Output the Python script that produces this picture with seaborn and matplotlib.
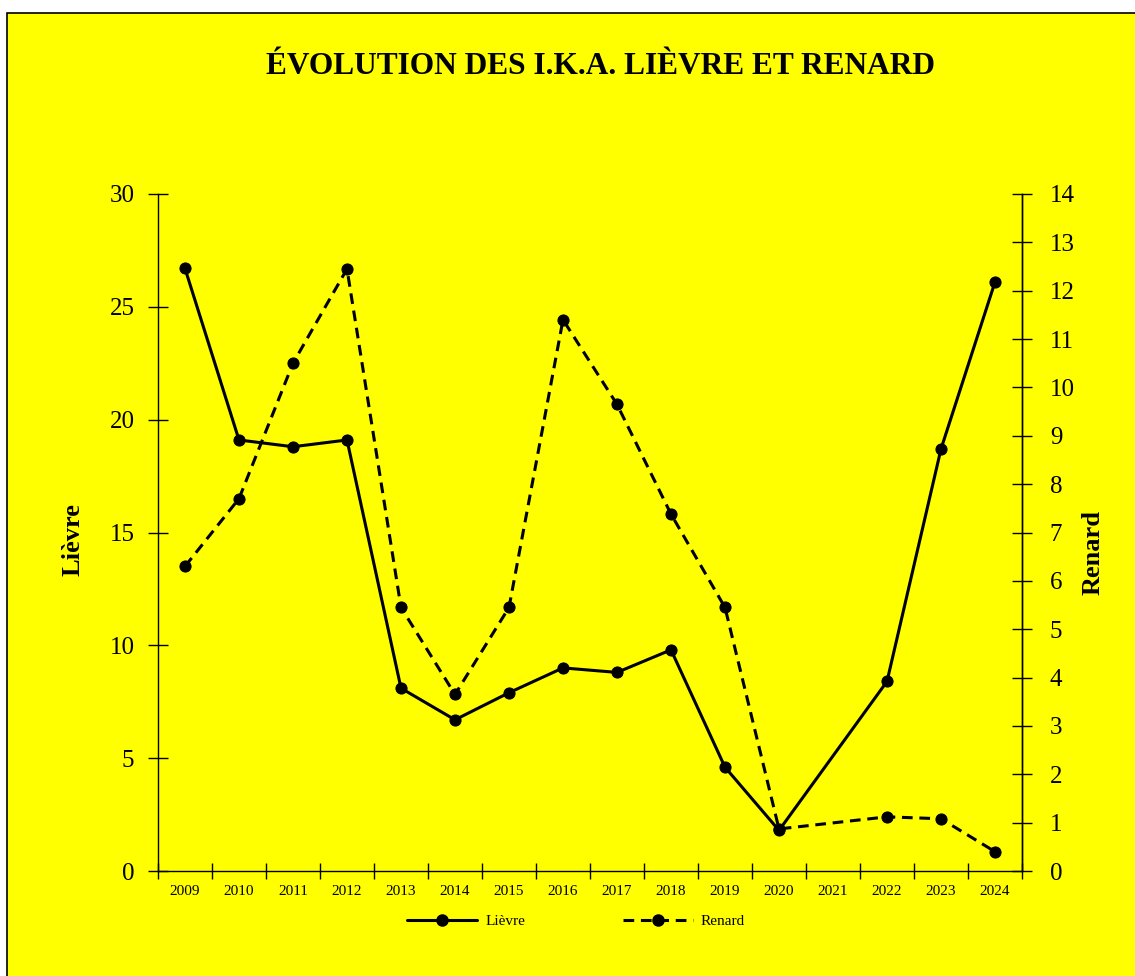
import numpy as np
import pandas as pd
import matplotlib.pyplot as plt
import seaborn as sns
from matplotlib.patches import Rectangle
from matplotlib.lines import Line2D

annees = ["2009", "2010", "2011", "2012", "2013", "2014", "2015", "2016",
          "2017", "2018", "2019", "2020", "2021", "2022", "2023", "2024"]
lievre = [26.7, 19.1, 18.8, 19.1, 8.1, 6.7, 7.9, 9.0, 8.8, 9.8, 4.6, 1.8,
          np.nan, 8.4, 18.7, 26.1]
renard = [6.3, 7.7, 10.5, 12.45, 5.45, 3.65, 5.45, 11.4, 9.65, 7.38, 5.45,
          0.87, np.nan, 1.12, 1.08, 0.4]

df = pd.DataFrame({"pos": np.arange(len(annees)), "annee": annees,
                   "Lièvre": lievre, "Renard": renard})

sns.set_theme(style="ticks")
plt.rcParams["font.family"] = ["Liberation Serif", "DejaVu Serif"]
plt.rcParams["text.color"] = "black"
plt.rcParams["axes.labelcolor"] = "black"
plt.rcParams["xtick.color"] = "black"
plt.rcParams["ytick.color"] = "black"

fig = plt.figure(figsize=(11.35, 9.76), dpi=100)
fig.patch.set_facecolor("white")
fig.patches.append(Rectangle((7 / 1135, -0.01), 1.1, (976 - 13) / 976 + 0.01,
                             transform=fig.transFigure, facecolor="#ffff00",
                             edgecolor="black", linewidth=1.2, zorder=-10))

ax = fig.add_axes([158 / 1135, 1 - 871 / 976, (1022 - 158) / 1135, (871 - 194) / 976])
ax.set_facecolor("none")
ax2 = ax.twinx()

d1 = df.dropna(subset=["Lièvre"])
d2 = df.dropna(subset=["Renard"])
sns.lineplot(data=d1, x="pos", y="Lièvre", ax=ax, color="black", lw=2.2,
             marker="o", markersize=8, markeredgecolor="black", legend=False)
sns.lineplot(data=d2, x="pos", y="Renard", ax=ax2, color="black", lw=2.2,
             marker="o", markersize=8, markeredgecolor="black", legend=False,
             linestyle=(0, (3.5, 2.2)))

ax.set_xlim(-0.5, len(annees) - 0.5)
ax.set_ylim(0, 30)
ax2.set_ylim(0, 14)
ax.set_yticks(range(0, 31, 5))
ax2.set_yticks(range(0, 15))
ax.set_xticks(np.arange(len(annees) + 1) - 0.5, minor=True)
ax.set_xticks(np.arange(len(annees)))
ax.set_xticklabels(annees, fontsize=11)
ax.tick_params(axis="x", which="major", length=0, pad=10)
ax.tick_params(axis="x", which="minor", direction="inout", length=11, width=1)
ax.tick_params(axis="y", direction="inout", length=15, width=1, labelsize=18, pad=9.5)
ax2.tick_params(axis="y", direction="inout", length=15, width=1, labelsize=18, pad=12.5)

for a in (ax, ax2):
    a.spines["top"].set_visible(False)
    for s in a.spines.values():
        s.set_color("black")
        s.set_linewidth(1)
ax2.spines["left"].set_visible(False)
ax2.spines["bottom"].set_visible(False)

ax.set_xlabel("")
ax.set_ylabel("Lièvre", fontsize=19, fontweight="bold")
ax.yaxis.set_label_coords(-0.085, 0.49, transform=ax.transAxes)
ax2.set_ylabel("Renard", fontsize=19, fontweight="bold", rotation=90)
ax2.yaxis.set_label_coords(1.069, 0.47, transform=ax.transAxes)

fig.text(600 / 1135, 1 - 66 / 976, "ÉVOLUTION DES I.K.A. LIÈVRE ET RENARD",
         ha="center", va="center", fontsize=22.6, fontweight="bold")

handles = [Line2D([], [], color="black", lw=2.2, marker="o", markersize=8),
           Line2D([], [], color="black", lw=2.2, marker="o", markersize=8,
                  linestyle=(0, (3.5, 2.2)))]
fig.legend(handles, ["Lièvre", "Renard"], loc="center",
           bbox_to_anchor=(576 / 1135, 1 - 921 / 976), ncol=2, frameon=False,
           fontsize=11, handlelength=4.6, columnspacing=6.4, handletextpad=0.5)

fig.savefig("out.png", dpi=100, facecolor=fig.get_facecolor())
